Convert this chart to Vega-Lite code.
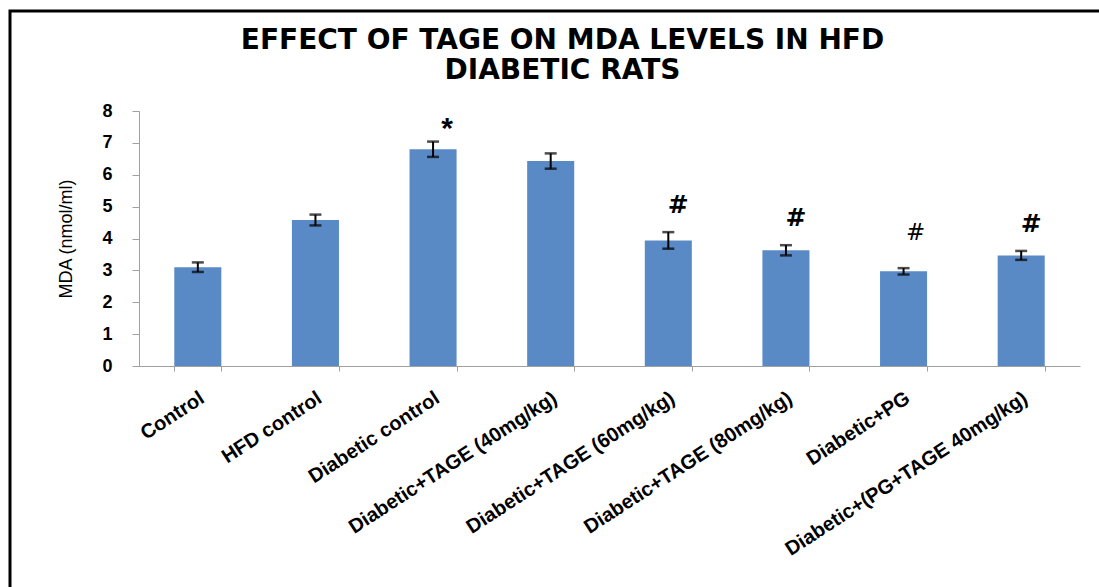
{
  "$schema": "https://vega.github.io/schema/vega-lite/v6.json",
  "width": 1101,
  "height": 590,
  "autosize": {"type": "none"},
  "padding": {"left": 10, "top": 11, "right": -12, "bottom": -14},
  "background": "white",
  "title": {
    "text": ["EFFECT OF TAGE ON MDA LEVELS IN HFD", "DIABETIC RATS"],
    "font": "DejaVu Sans",
    "fontSize": 28,
    "fontWeight": "bold",
    "color": "black",
    "lineHeight": 30,
    "baseline": "top",
    "anchor": "middle",
    "frame": "group",
    "offset": -18,
    "dy": 56,
    "dx": 2
  },
  "data": {
    "values": [
      {"group": "Control", "mda": 3.10, "lo": 2.95, "hi": 3.25, "sig": ""},
      {"group": "HFD control", "mda": 4.58, "lo": 4.41, "hi": 4.75, "sig": ""},
      {"group": "Diabetic control", "mda": 6.80, "lo": 6.56, "hi": 7.04, "sig": "*"},
      {"group": "Diabetic+TAGE (40mg/kg)", "mda": 6.43, "lo": 6.19, "hi": 6.67, "sig": ""},
      {"group": "Diabetic+TAGE (60mg/kg)", "mda": 3.94, "lo": 3.68, "hi": 4.20, "sig": "#"},
      {"group": "Diabetic+TAGE (80mg/kg)", "mda": 3.63, "lo": 3.47, "hi": 3.79, "sig": "#"},
      {"group": "Diabetic+PG", "mda": 2.97, "lo": 2.87, "hi": 3.07, "sig": "#"},
      {"group": "Diabetic+(PG+TAGE 40mg/kg)", "mda": 3.47, "lo": 3.33, "hi": 3.61, "sig": "#"}
    ]
  },
  "encoding": {
    "x": {
      "field": "group",
      "type": "nominal",
      "sort": null,
      "scale": {"range": [129, 1070], "paddingInner": 0.6, "paddingOuter": 0.3},
      "axis": {
        "title": null,
        "offset": -235,
        "tickBand": "extent",
        "labelAngle": -33,
        "labelAlign": "right",
        "labelBaseline": "middle",
        "labelFont": "Liberation Sans",
        "labelFontSize": 20,
        "labelFontWeight": "bold",
        "labelColor": "black",
        "labelPadding": 25,
        "labelOffset": 4,
        "labelLimit": 500,
        "labelOverlap": false,
        "tickSize": 5,
        "tickColor": "#a0a0a0",
        "domainColor": "#a0a0a0"
      }
    }
  },
  "layer": [
    {
      "mark": {"type": "bar", "color": "#5a8ac6"},
      "encoding": {
        "y": {
          "field": "mda",
          "type": "quantitative",
          "scale": {"domain": [0, 8], "range": [355, 100], "nice": false, "zero": true},
          "axis": {
            "title": "MDA (nmol/ml)",
            "values": [0, 1, 2, 3, 4, 5, 6, 7, 8],
            "format": "d",
            "offset": -129,
            "grid": false,
            "domainColor": "#a0a0a0",
            "tickColor": "#a0a0a0",
            "tickSize": 7,
            "labelFont": "Liberation Sans",
            "labelFontSize": 18,
            "labelFontWeight": "bold",
            "labelColor": "black",
            "labelPadding": 20,
            "titleFont": "Liberation Sans",
            "titleFontSize": 18,
            "titleFontWeight": "normal",
            "titleColor": "black",
            "titlePadding": 26
          }
        }
      }
    },
    {
      "mark": {"type": "rule", "color": "black", "strokeWidth": 2},
      "encoding": {
        "y": {"field": "lo", "type": "quantitative"},
        "y2": {"field": "hi"}
      }
    },
    {
      "mark": {"type": "tick", "color": "black", "size": 12, "thickness": 2.5},
      "encoding": {"y": {"field": "lo", "type": "quantitative"}}
    },
    {
      "mark": {"type": "tick", "color": "black", "size": 12, "thickness": 2.5},
      "encoding": {"y": {"field": "hi", "type": "quantitative"}}
    },
    {
      "transform": [{"filter": "datum.sig == '*'"}],
      "mark": {"type": "text", "font": "Liberation Sans", "fontSize": 30, "fontWeight": "bold", "color": "black", "align": "center", "baseline": "middle", "dx": 14, "dy": -13},
      "encoding": {
        "y": {"field": "hi", "type": "quantitative"},
        "text": {"field": "sig"}
      }
    },
    {
      "transform": [{"filter": "datum.sig == '#' && datum.group != 'Diabetic+PG'"}],
      "mark": {"type": "text", "font": "DejaVu Sans", "fontSize": 25, "fontWeight": "bold", "color": "black", "align": "center", "baseline": "middle", "dx": 10, "dy": -27},
      "encoding": {
        "y": {"field": "hi", "type": "quantitative"},
        "text": {"field": "sig"}
      }
    },
    {
      "transform": [{"filter": "datum.group == 'Diabetic+PG'"}],
      "mark": {"type": "text", "font": "DejaVu Sans", "fontSize": 23, "fontWeight": "normal", "color": "black", "align": "center", "baseline": "middle", "dx": 12, "dy": -35},
      "encoding": {
        "y": {"field": "hi", "type": "quantitative"},
        "text": {"field": "sig"}
      }
    }
  ],
  "config": {
    "view": {"stroke": "black", "strokeWidth": 3},
    "font": "Liberation Sans"
  }
}
